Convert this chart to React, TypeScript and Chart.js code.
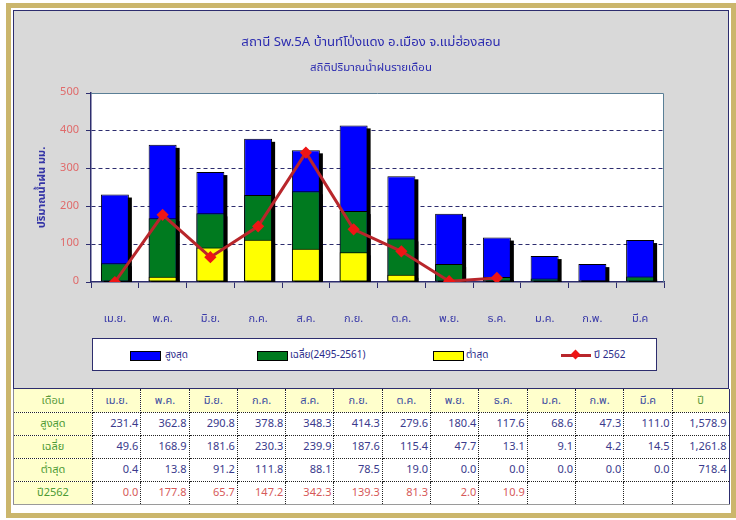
import React, { useEffect, useRef } from "react";
import { Chart, registerables } from "chart.js";

Chart.register(...registerables);

const MONTHS = ["เม.ย.", "พ.ค.", "มิ.ย.", "ก.ค.", "ส.ค.", "ก.ย.", "ต.ค.", "พ.ย.", "ธ.ค.", "ม.ค.", "ก.พ.", "มี.ค"];
const MAX_RAIN = [231.4, 362.8, 290.8, 378.8, 348.3, 414.3, 279.6, 180.4, 117.6, 68.6, 47.3, 111.0];
const AVG_RAIN = [49.6, 168.9, 181.6, 230.3, 239.9, 187.6, 115.4, 47.7, 13.1, 9.1, 4.2, 14.5];
const MIN_RAIN = [0.4, 13.8, 91.2, 111.8, 88.1, 78.5, 19.0, 0.0, 0.0, 0.0, 0.0, 0.0];
const YEAR_2562: (number | null)[] = [0.0, 177.8, 65.7, 147.2, 342.3, 139.3, 81.3, 2.0, 10.9, null, null, null];
const ANNUAL = ["1,578.9", "1,261.8", "718.4", ""];
const ROW_LABELS = ["สูงสุด", "เฉลี่ย", "ต่ำสุด", "ปี2562"];
const LEGEND_LABELS = ["สูงสุด", "เฉลี่ย(2495-2561)", "ต่ำสุด", "ปี 2562"];
const TITLE = "สถานี Sw.5A บ้านท์โป่งแดง อ.เมือง จ.แม่ฮ่องสอน";
const SUBTITLE = "สถิติปริมาณน้ำฝนรายเดือน";
const Y_TITLE = "ปริมาณน้ำฝน มม.";
const Y_MIN = 0;
const Y_MAX = 500;
const Y_STEP = 100;

const FONT = "Tahoma, 'Noto Sans Thai', 'Noto Sans', 'DejaVu Sans', sans-serif";
const NAVY = "#2d2d6e";
const BLUE = "#0000ff";
const GREEN = "#007a1f";
const YELLOW = "#ffff00";
const RED_LINE = "#b8262b";
const RED_PT = "#ee1515";
const GOLD = "#cbb66c";

const plotDecor = {
  id: "plotDecor",
  beforeDraw(chart: any) {
    const { ctx, chartArea: a } = chart;
    ctx.save();
    ctx.fillStyle = "#ffffff";
    ctx.fillRect(a.left, a.top, a.right - a.left, a.bottom - a.top);
    ctx.restore();
  },
  beforeDatasetsDraw(chart: any) {
    const { ctx, chartArea: a } = chart;
    ctx.save();
    ctx.beginPath();
    ctx.rect(a.left, a.top, a.right - a.left, a.bottom - a.top);
    ctx.clip();
    ctx.fillStyle = "#000000";
    chart.data.datasets.forEach((ds: any, i: number) => {
      if (ds.type === "line") return;
      const meta = chart.getDatasetMeta(i);
      meta.data.forEach((el: any) => {
        const { x, y, width, base } = el.getProps(["x", "y", "width", "base"], true);
        const h = base - y;
        if (h <= 0.5) return;
        ctx.fillRect(x - width / 2 + 3, y + 3, width, h);
      });
    });
    ctx.restore();
  },
  afterDraw(chart: any) {
    const { ctx, chartArea: a } = chart;
    ctx.save();
    ctx.strokeStyle = "#5a7f96";
    ctx.lineWidth = 1;
    ctx.beginPath();
    ctx.moveTo(a.left, a.top + 0.5);
    ctx.lineTo(a.right - 0.5, a.top + 0.5);
    ctx.lineTo(a.right - 0.5, a.bottom);
    ctx.stroke();
    ctx.restore();
  },
};

function RainChart() {
  const ref = useRef<HTMLCanvasElement | null>(null);
  useEffect(() => {
    if (!ref.current) return;
    Chart.defaults.font.family = FONT;
    const barCommon = {
      type: "bar" as const,
      grouped: false,
      categoryPercentage: 1,
      barPercentage: 0.586,
      borderColor: "#000000",
      borderWidth: 1,
      borderSkipped: false,
    };
    const chart = new Chart(ref.current, {
      type: "bar",
      data: {
        labels: MONTHS,
        datasets: [
          {
            type: "line",
            label: LEGEND_LABELS[3],
            data: YEAR_2562,
            borderColor: RED_LINE,
            borderWidth: 3,
            pointStyle: "rectRot",
            pointRadius: 4,
            pointBackgroundColor: RED_PT,
            pointBorderColor: RED_PT,
            spanGaps: false,
            tension: 0,
            order: 0,
          } as any,
          { ...barCommon, label: LEGEND_LABELS[2], data: MIN_RAIN, backgroundColor: YELLOW, order: 1 },
          { ...barCommon, label: LEGEND_LABELS[1], data: AVG_RAIN, backgroundColor: GREEN, order: 2 },
          { ...barCommon, label: LEGEND_LABELS[0], data: MAX_RAIN, backgroundColor: BLUE, order: 3 },
        ],
      },
      options: {
        animation: false,
        responsive: false,
        maintainAspectRatio: false,
        layout: { padding: { left: 18, top: 82, right: 64, bottom: 0 } },
        plugins: {
          legend: { display: false },
          title: { display: false },
          tooltip: { enabled: false },
        },
        scales: {
          x: {
            type: "category",
            offset: true,
            afterFit: (axis: any) => {
              axis.height = 106;
            },
            grid: {
              offset: true,
              drawOnChartArea: false,
              drawTicks: true,
              tickLength: 6,
              tickColor: NAVY,
              color: NAVY,
            },
            border: { color: NAVY, width: 1.5 },
            ticks: { color: "#3838a8", font: { size: 11 }, padding: 25, maxRotation: 0, autoSkip: false },
          },
          y: {
            min: Y_MIN,
            max: Y_MAX,
            afterFit: (axis: any) => {
              axis.width = 59;
            },
            ticks: { stepSize: Y_STEP, color: "#e06a6a", font: { size: 11 }, padding: 7 },
            grid: {
              color: (c: any) => (c.tick && (c.tick.value === Y_MIN || c.tick.value === Y_MAX) ? "rgba(0,0,0,0)" : NAVY),
              lineWidth: 1,
              tickLength: 5,
              tickColor: NAVY,
              tickBorderDash: [],
            },
            border: { color: NAVY, width: 1.5, dash: [4, 3] },
            title: {
              display: true,
              text: Y_TITLE,
              color: "#3434a6",
              font: { size: 11, weight: "bold" },
            },
          },
        },
      },
      plugins: [plotDecor],
    });
    return () => chart.destroy();
  }, []);
  return <canvas ref={ref} width={714} height={377} style={{ position: "absolute", left: 0, top: 0, width: 714, height: 377 }} />;
}

function LegendBox() {
  const swatch = (left: number, color: string) => (
    <div style={{ position: "absolute", left, top: 12, width: 29, height: 8, background: color, border: "1px solid #000" }} />
  );
  const label = (left: number, text: string) => (
    <div style={{ position: "absolute", left, top: 8, fontSize: 10, color: "#2a2a8a", whiteSpace: "nowrap", lineHeight: "16px" }}>{text}</div>
  );
  return (
    <div style={{ position: "absolute", left: 92, top: 338, width: 565, height: 33, boxSizing: "border-box", border: `1px solid ${NAVY}`, background: "#fff" }}>
      {swatch(37, BLUE)}
      {label(72, LEGEND_LABELS[0])}
      {swatch(164, GREEN)}
      {label(197, LEGEND_LABELS[1])}
      {swatch(340, YELLOW)}
      {label(373, LEGEND_LABELS[2])}
      <div style={{ position: "absolute", left: 468, top: 15, width: 30, height: 3, background: RED_LINE }} />
      <div style={{ position: "absolute", left: 479, top: 12, width: 7, height: 7, background: RED_PT, transform: "rotate(45deg)" }} />
      {label(501, LEGEND_LABELS[3])}
    </div>
  );
}

function DataTable() {
  const fmt = (v: number | null) => (v === null ? "" : v.toFixed(1));
  const rows: (number | null)[][] = [MAX_RAIN, AVG_RAIN, MIN_RAIN, YEAR_2562];
  const cellBorder = "1px dotted #222";
  const base: React.CSSProperties = { borderRight: cellBorder, borderBottom: cellBorder, padding: "0 2px", fontSize: 11, height: 22, lineHeight: "22px", overflow: "hidden", whiteSpace: "nowrap" };
  return (
    <table style={{ position: "absolute", left: 13, top: 389, width: 716, borderCollapse: "collapse", tableLayout: "fixed", fontFamily: FONT, borderLeft: "1px solid #8a8a9a", borderRight: `1px solid ${NAVY}`, borderBottom: "1px solid #9a9a9a" }}>
      <colgroup>
        <col style={{ width: 79 }} />
        {MONTHS.map((m) => (
          <col key={m} style={{ width: 48.3 }} />
        ))}
        <col style={{ width: 57 }} />
      </colgroup>
      <tbody>
        <tr style={{ background: "#ffffcc" }}>
          <td style={{ ...base, textAlign: "center", color: "#5a9a3a", height: 23 }}>เดือน</td>
          {MONTHS.map((m) => (
            <td key={m} style={{ ...base, textAlign: "center", color: "#3c4ca0", height: 23 }}>{m}</td>
          ))}
          <td style={{ ...base, textAlign: "center", color: "#5a9a3a", borderRight: "none", height: 23 }}>ปี</td>
        </tr>
        {rows.map((r, i) => (
          <tr key={i}>
            <td style={{ ...base, textAlign: "center", color: "#4c9a34", background: "#ffffcc" }}>{ROW_LABELS[i]}</td>
            {r.map((v, j) => (
              <td key={j} style={{ ...base, textAlign: "right", color: i === 3 ? "#d65a5a" : "#3a3a8c", background: "#fff" }}>{fmt(v)}</td>
            ))}
            <td style={{ ...base, textAlign: "right", color: "#3a3a8c", background: "#fff", borderRight: "none", borderBottom: i === 3 ? "none" : cellBorder }}>{ANNUAL[i]}</td>
          </tr>
        ))}
      </tbody>
    </table>
  );
}

export default function App() {
  return (
    <div style={{ position: "fixed", left: 0, top: 0, width: 736, height: 520, background: "#fff", fontFamily: FONT, overflow: "hidden" }}>
      <div style={{ position: "absolute", left: 6, top: 3, width: 730, height: 515, boxSizing: "border-box", border: `5px solid ${GOLD}` }} />
      <div style={{ position: "absolute", left: 13, top: 10, width: 716, height: 379, boxSizing: "border-box", border: `1px solid ${NAVY}`, background: "#d9d9d9" }}>
        <RainChart />
      </div>
      <div style={{ position: "absolute", left: 13, top: 32, width: 716, textAlign: "center", fontSize: 13.2, color: "#2c2cb0", whiteSpace: "nowrap" }}>{TITLE}</div>
      <div style={{ position: "absolute", left: 13, top: 59, width: 716, textAlign: "center", fontSize: 11.4, color: "#2c2cb0", whiteSpace: "nowrap" }}>{SUBTITLE}</div>
      <LegendBox />
      <DataTable />
    </div>
  );
}
